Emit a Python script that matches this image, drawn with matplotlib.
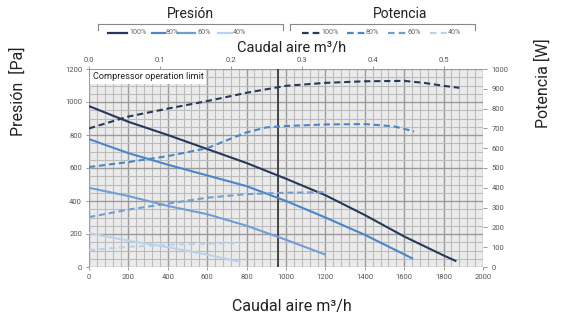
import matplotlib
matplotlib.use("Agg")
import matplotlib.pyplot as plt
import numpy as np
from matplotlib.lines import Line2D

FONT = ["Roboto", "DejaVu Sans"]
plt.rcParams['font.family'] = FONT

# ---- data (flow in m3/h) ----
q_p100 = [0, 200, 400, 600, 800, 1000, 1200, 1400, 1600, 1800, 1865]
p100 = [975, 880, 800, 715, 630, 535, 435, 315, 185, 70, 35]
q_p80 = [0, 200, 400, 600, 800, 1000, 1200, 1400, 1645]
p80 = [775, 690, 620, 555, 490, 400, 300, 195, 50]
q_p60 = [0, 200, 400, 600, 800, 1000, 1200]
p60 = [480, 430, 370, 320, 250, 165, 75]
q_p40 = [0, 200, 400, 600, 770]
p40 = [205, 160, 120, 75, 30]

q_w100 = [0, 200, 400, 600, 800, 1000, 1200, 1400, 1600, 1700, 1800, 1880]
w100 = [700, 760, 800, 838, 880, 915, 930, 938, 940, 930, 915, 905]
q_w80 = [0, 200, 400, 600, 700, 800, 900, 1000, 1200, 1400, 1550, 1650]
w80 = [505, 530, 560, 600, 640, 680, 705, 712, 720, 722, 710, 685]
q_w60 = [0, 200, 400, 600, 800, 1000, 1200]
w60 = [252, 290, 320, 350, 368, 375, 378]
q_w40 = [0, 200, 400, 600, 770]
w40 = [85, 102, 112, 118, 121]

labels = ["100%", "80%", "60%", "40%"]
colors = ["#26395a", "#4a86c8", "#6f9fd6", "#b9d3ef"]

limit_q = 957
x_ticks = [0, 200, 400, 600, 800, 1000, 1200, 1400, 1600, 1800, 2000]
y_ticks = [0, 200, 400, 600, 800, 1000, 1200]
w_ticks = [0, 100, 200, 300, 400, 500, 600, 700, 800, 900, 1000]
top_ticks = [0.0, 0.1, 0.2, 0.3, 0.4, 0.5]

W, H = 565, 321
fig = plt.figure(figsize=(W / 100, H / 100), dpi=100)
l, r, t, b = 89, 483, 69, 267
ax = fig.add_axes([l / W, 1 - b / H, (r - l) / W, (b - t) / H])
ax.set_facecolor("#ebebeb")
ax.set_xlim(0, 2000)
ax.set_ylim(0, 1200)

# grid
for xv in np.arange(0, 2001, 40):
    major = xv % 200 == 0
    ax.axvline(xv, color="#9a9a9a" if major else "#bcbcbc", lw=1.0 if major else 0.8, zorder=1)
for yv in np.arange(0, 1201, 50):
    major = yv % 200 == 0
    ax.axhline(yv, color="#9a9a9a" if major else "#bcbcbc", lw=1.0 if major else 0.8, zorder=1)
ax.axvline(limit_q, color="#3a3a3a", lw=1.3, zorder=2)

ax2 = ax.twinx()
ax2.set_ylim(0, 1000)

press = [(q_p100, p100), (q_p80, p80), (q_p60, p60), (q_p40, p40)]
power = [(q_w100, w100), (q_w80, w80), (q_w60, w60), (q_w40, w40)]
for (q, p), c in zip(press, colors):
    ax.plot(q, p, color=c, lw=1.5, zorder=3, solid_capstyle="butt")
for (q, w), c in zip(power, colors):
    ax2.plot(q, w, color=c, lw=1.5, ls=(0, (3, 1.8)), zorder=3)

for a in (ax, ax2):
    for s in a.spines.values():
        s.set_visible(False)

ax.set_xticks(x_ticks)
ax.set_xticklabels([str(v) for v in x_ticks])
ax.set_yticks(y_ticks)
ax.set_yticklabels([str(v) for v in y_ticks])
ax.tick_params(axis="both", labelsize=5.5, labelcolor="#555555", color="#888888", length=2, width=0.6, pad=3)
ax2.set_yticks(w_ticks)
ax2.set_yticklabels([str(v) for v in w_ticks])
ax2.tick_params(axis="y", labelsize=5.5, labelcolor="#555555", color="#888888", length=3, width=0.6, pad=3)

# top secondary axis (m3/s)
sec = ax.secondary_xaxis("top", functions=(lambda x: x / 3600.0, lambda x: x * 3600.0))
sec.set_xticks(top_ticks)
sec.set_xticklabels([f"{v:.1f}" for v in top_ticks])
sec.tick_params(labelsize=5.5, labelcolor="#555555", color="#888888", length=2, width=0.6, pad=2)
for s in sec.spines.values():
    s.set_visible(False)

# compressor box
ax.text(20, 1152, "Compressor operation limit", fontsize=6.6, color="#222222", va="center", ha="left",
        bbox=dict(facecolor="white", edgecolor="none", pad=1.8), zorder=5)

# axis titles
fig.text(18 / W, 1 - 91 / H, "Presión  [Pa]", rotation=90, ha="center", va="center", fontsize=11.5, color="#222222")
fig.text(543 / W, 1 - 83 / H, "Potencia [W]", rotation=90, ha="center", va="center", fontsize=11.5, color="#222222")
fig.text(292 / W, 1 - 306 / H, "Caudal aire m³/h", ha="center", va="center", fontsize=11.5, color="#222222")
fig.text(292 / W, 1 - 47 / H, "Caudal aire m³/h", ha="center", va="center", fontsize=10.5, color="#222222")

# legend headers with brackets
def fx(x):
    return x / W

def fy(y):
    return 1 - y / H

fig.text(fx(190), fy(14), "Presión", ha="center", va="center", fontsize=10, color="#222222")
fig.text(fx(400), fy(14), "Potencia", ha="center", va="center", fontsize=10, color="#222222")
for x0, x1 in [(98, 283), (290, 475)]:
    fig.add_artist(Line2D([fx(x0), fx(x0), fx(x1), fx(x1)], [fy(30), fy(24), fy(24), fy(30)],
                          color="#888888", lw=0.8))

leg_p = [(108, 127, 129), (152, 165, 166), (178, 195, 197), (218, 232, 233)]
leg_w = [(302, 320, 321), (347, 365, 366), (388, 407, 408), (430, 447, 448)]
for (x0, x1, xt), c, lab in zip(leg_p, colors, labels):
    fig.add_artist(Line2D([fx(x0), fx(x1)], [fy(33), fy(33)], color=c, lw=1.6))
    fig.text(fx(xt), fy(33), lab, ha="left", va="center", fontsize=5.2, color="#666666")
for (x0, x1, xt), c, lab in zip(leg_w, colors, labels):
    fig.add_artist(Line2D([fx(x0), fx(x1)], [fy(33), fy(33)], color=c, lw=1.6, ls=(0, (3, 1.8))))
    fig.text(fx(xt), fy(33), lab, ha="left", va="center", fontsize=5.2, color="#666666")

fig.savefig("out.png", dpi=100)
